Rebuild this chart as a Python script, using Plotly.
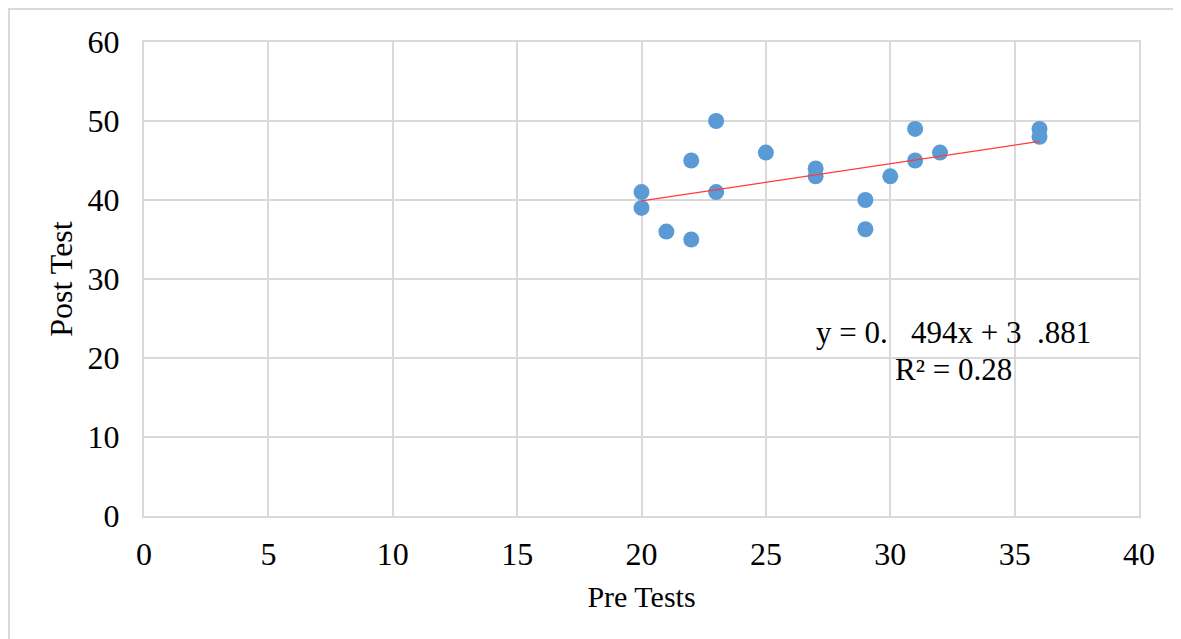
import numpy as np
import plotly.graph_objects as go

pre_tests = [20, 20, 21, 22, 22, 23, 23, 25, 27, 27, 29, 29, 30, 31, 31, 32, 36, 36]
post_test = [41, 39, 36, 35, 45, 50, 41, 46, 44, 43, 40, 36.3, 43, 49, 45, 46, 49, 48]
x_ticks = [0, 5, 10, 15, 20, 25, 30, 35, 40]
y_ticks = [0, 10, 20, 30, 40, 50, 60]
eq_line1 = "y = 0.\u00a0\u00a0\u00a0494x + 3\u00a0\u00a0.881"
eq_line2 = "R\u00b2 = 0.28"

slope, intercept = np.polyfit(pre_tests, post_test, 1)
tx = [min(pre_tests), max(pre_tests)]
ty = [slope * v + intercept for v in tx]

FONT = "Liberation Serif, Times New Roman, serif"
GRID = "#D9D9D9"

fig = go.Figure()
fig.add_trace(go.Scatter(x=pre_tests, y=post_test, mode="markers",
                         marker=dict(size=16, color="#5B9BD5"),
                         showlegend=False, hoverinfo="x+y"))
fig.add_trace(go.Scatter(x=tx, y=ty, mode="lines",
                         line=dict(color="#FF3B3B", width=1.3),
                         showlegend=False, hoverinfo="skip"))

fig.add_annotation(x=32.55, y=23.2, text=eq_line1, showarrow=False,
                   xanchor="center", yanchor="middle",
                   font=dict(family=FONT, size=31, color="#000000"))
fig.add_annotation(x=32.55, y=18.5, text=eq_line2, showarrow=False,
                   xanchor="center", yanchor="middle",
                   font=dict(family=FONT, size=31, color="#000000"))

# chart area border (top and left visible)
fig.add_shape(type="rect", xref="paper", yref="paper",
              x0=(9 - 144) / 995, x1=(1200 - 144) / 995,
              y0=(516 - 660) / 474, y1=(516 - 9) / 474,
              line=dict(color="#D9D9D9", width=2), fillcolor="rgba(0,0,0,0)",
              layer="below")

fig.update_layout(
    width=1173, height=631,
    margin=dict(l=136, r=42, t=34, b=123),
    paper_bgcolor="white", plot_bgcolor="white",
    font=dict(family=FONT, color="#000000"),
    xaxis=dict(range=[0, 40], tickvals=x_ticks, showgrid=True, gridcolor=GRID,
               gridwidth=2, zeroline=False, showline=True, linecolor=GRID,
               linewidth=2, mirror=True, ticks="", ticklabelstandoff=9,
               tickfont=dict(family=FONT, size=32),
               title=dict(text="Pre Tests", font=dict(family=FONT, size=30),
                          standoff=15)),
    yaxis=dict(range=[0, 60], tickvals=y_ticks, showgrid=True, gridcolor=GRID,
               gridwidth=2, zeroline=False, showline=True, linecolor=GRID,
               linewidth=2, mirror=True, ticks="", ticklabelstandoff=16,
               tickfont=dict(family=FONT, size=32),
               title=dict(text="Post Test", font=dict(family=FONT, size=32),
                          standoff=5)),
)

fig.write_html("out.html")
